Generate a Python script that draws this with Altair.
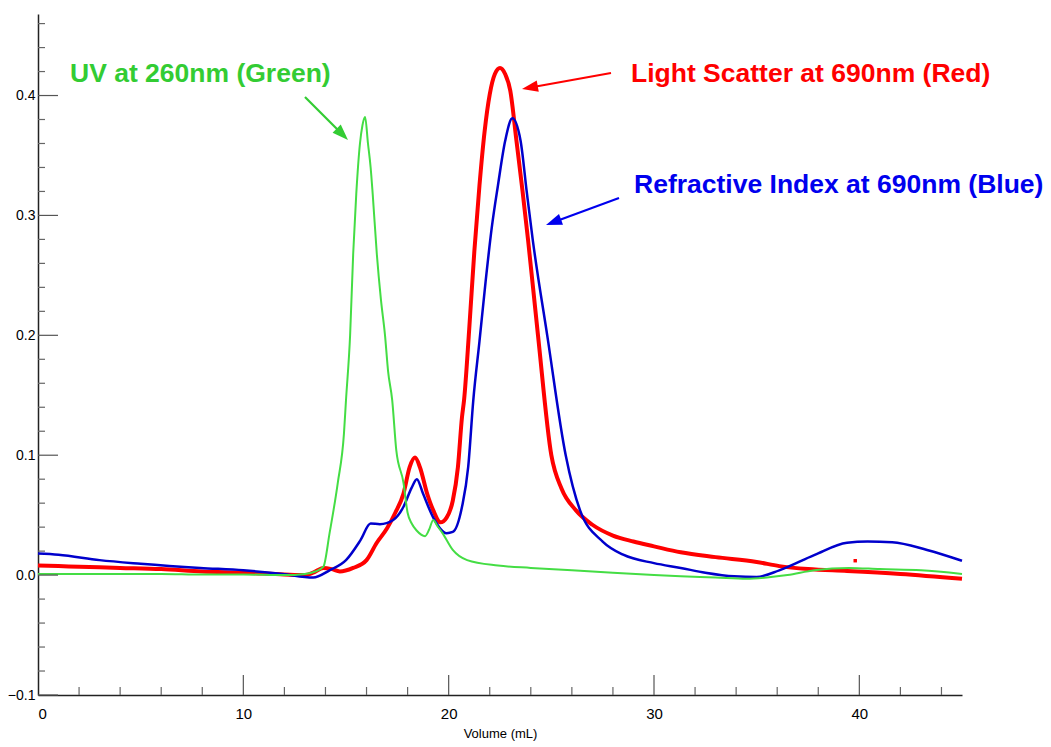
import math
import altair as alt
import pandas as pd

# ---------------- data ----------------
uv_x = [0, 2, 4, 6, 8, 10, 12, 13, 13.5, 13.9, 14.2, 14.6, 14.9, 15.0, 15.2, 15.35, 15.5, 15.68,
        15.8, 15.93, 16.07, 16.2, 16.3, 16.5, 16.7, 16.9, 17.05, 17.25, 17.45, 17.8, 18.0, 18.2,
        18.45, 18.85, 19.05, 19.25, 19.45, 19.7, 20.2, 20.9, 22.4, 24.0, 26, 28, 30, 31.3, 33,
        34.5, 35.5, 36.5, 37.8, 39.5, 41, 43, 45]
uv_y = [0.001, 0.001, 0.001, 0.001, 0.0005, 0.0005, 0.0, 0.001, 0.003, 0.007, 0.035, 0.077, 0.118,
        0.146, 0.2, 0.268, 0.318, 0.36, 0.375, 0.382, 0.36, 0.34, 0.318, 0.268, 0.23, 0.2, 0.17,
        0.146, 0.104, 0.077, 0.052, 0.043, 0.037, 0.0325, 0.038, 0.046, 0.041, 0.035, 0.021,
        0.0125, 0.008, 0.006, 0.004, 0.002, 0.0, -0.001, -0.002, -0.003, -0.002, 0.0, 0.004,
        0.006, 0.005, 0.004, 0.001]

ls_x = [0, 1, 2, 4, 6, 8, 10, 12, 13, 13.4, 13.9, 14.3, 14.7, 15.35, 16.0, 16.5, 17.0, 17.4, 17.8,
        18.1, 18.36, 18.6, 18.95, 19.25, 19.6, 19.9, 20.2, 20.45, 20.65, 20.75, 21.0, 21.25, 21.5,
        21.75, 22.0, 22.25, 22.5, 22.75, 23.0, 23.3, 23.6, 23.87, 24.35, 25.0, 25.5, 26.2, 27, 28,
        29, 30, 31.3, 33, 35, 36.1, 37.5, 39.4, 42, 45]
ls_y = [0.008, 0.0075, 0.007, 0.006, 0.005, 0.003, 0.002, 0.0005, 0.0, 0.002, 0.006, 0.005, 0.003,
        0.006, 0.0125, 0.027, 0.039, 0.052, 0.068, 0.09, 0.098, 0.09, 0.068, 0.054, 0.044, 0.048,
        0.062, 0.09, 0.132, 0.146, 0.205, 0.27, 0.325, 0.37, 0.401, 0.418, 0.423, 0.418, 0.404,
        0.3625, 0.32, 0.279, 0.2, 0.1, 0.072, 0.054, 0.042, 0.033, 0.028, 0.024, 0.019, 0.015,
        0.011, 0.0075, 0.005, 0.0035, 0.001, -0.003]

ri_x = [0, 1, 3, 5, 7.9, 10, 11.9, 13.4, 14.2, 15.0, 15.7, 16.2, 16.65, 17.3, 17.8, 18.2, 18.45,
        18.75, 19.25, 19.9, 20.2, 20.65, 20.95, 21.2, 21.5, 21.8, 22.1, 22.4, 22.75, 23.1, 23.5,
        23.8, 24.1, 24.8, 25.7, 26.4, 27.5, 28.5, 30, 31.3, 32.5, 33.9, 35, 36.1, 37.8, 39.4,
        40.4, 41.6, 43.3, 45]
ri_y = [0.018, 0.017, 0.0125, 0.0095, 0.006, 0.004, 0.001, -0.002, 0.004, 0.0125, 0.029, 0.043,
        0.0425, 0.046, 0.057, 0.073, 0.08, 0.068, 0.048, 0.035, 0.036, 0.057, 0.09, 0.146, 0.195,
        0.245, 0.29, 0.325, 0.362, 0.381, 0.3625, 0.32, 0.279, 0.2, 0.1, 0.054, 0.028, 0.017,
        0.01, 0.006, 0.002, -0.001, -0.0015, 0.004, 0.0167, 0.027, 0.028, 0.0275, 0.021, 0.012]

outlier_x = [39.8]
outlier_y = [0.012]

x_major = [10, 20, 30, 40]
x_minor = [2, 4, 6, 8, 12, 14, 16, 18, 22, 24, 26, 28, 32, 34, 36, 38, 42, 44]
y_major = [-0.1, 0.0, 0.1, 0.2, 0.3, 0.4]
y_minor = [-0.08, -0.06, -0.04, -0.02, 0.02, 0.04, 0.06, 0.08, 0.12, 0.14, 0.16, 0.18, 0.22,
           0.24, 0.26, 0.28, 0.32, 0.34, 0.36, 0.38, 0.42, 0.44, 0.46]

# ---------------- layout ----------------
W, H = 924, 681
FONT = "Liberation Sans"
GREEN, RED, BLUE = "#33cc33", "#ff0000", "#0000ee"

xs = alt.Scale(domain=[0, 45], nice=False, zero=False)
ys = alt.Scale(domain=[-0.1, 0.468], nice=False, zero=False)

def line(xv, yv, color, width):
    df = pd.DataFrame({"x": xv, "y": yv})
    return alt.Chart(df).mark_line(color=color, strokeWidth=width, interpolate="monotone").encode(
        x=alt.X("x:Q", scale=xs,
                axis=alt.Axis(values=[0, 10, 20, 30, 40], ticks=False, grid=False, title="Volume (mL)",
                              domainColor="#222222", domainWidth=1.5, labelFontSize=15,
                              labelFont=FONT, labelColor="#000000", labelPadding=11,
                              titleFont=FONT, titleFontSize=13, titleFontWeight="normal",
                              titleColor="#000000", titlePadding=6)),
        y=alt.Y("y:Q", scale=ys,
                axis=alt.Axis(values=y_major, format=".1f", ticks=False, grid=False, title=None,
                              domainColor="#222222", domainWidth=1.5, labelFontSize=14,
                              labelFont=FONT, labelColor="#000000", labelPadding=3)),
    )

red = line(ls_x, ls_y, RED, 4)
blue = line(ri_x, ri_y, "#0000cc", 2.5)
green = line(uv_x, uv_y, "#44dd44", 2)

outlier = alt.Chart(pd.DataFrame({"x": outlier_x, "y": outlier_y})).mark_square(
    color=RED, size=12, opacity=1).encode(x=alt.X("x:Q", scale=xs), y=alt.Y("y:Q", scale=ys))

def ticks_y(vals, length, color):
    return alt.Chart(pd.DataFrame({"v": vals})).mark_rule(color=color, strokeWidth=1.2).encode(
        y=alt.Y("v:Q", scale=ys), x=alt.value(0), x2=alt.value(length))

def ticks_x(vals, length, color):
    return alt.Chart(pd.DataFrame({"v": vals})).mark_rule(color=color, strokeWidth=1.2).encode(
        x=alt.X("v:Q", scale=xs), y=alt.value(H), y2=alt.value(H - length))

tick_layers = [ticks_y(y_major, 20, "#555555"), ticks_y(y_minor, 7, "#666666"),
               ticks_x(x_major, 20, "#555555"), ticks_x(x_minor, 8, "#666666")]

OX, OY = 38, 14  # plot origin on the page
one = pd.DataFrame({"a": [0]})

def label(text, px, py, color):
    return alt.Chart(one).mark_text(text=text, align="left", baseline="alphabetic", font=FONT,
                                    fontSize=26.5, fontWeight="bold", color=color).encode(
        x=alt.value(px - OX), y=alt.value(py - OY))

ARROW = "M0,0L0.36,1L-0.36,1Z"

def arrow(x1, y1, x2, y2, color):
    dx, dy = x2 - x1, y2 - y1
    ang = (math.degrees(math.atan2(dx, -dy)) + 360) % 360
    L = math.hypot(dx, dy)
    hl = 16
    bx, by = x2 - dx / L * hl * 0.8, y2 - dy / L * hl * 0.8
    shaft = alt.Chart(one).mark_rule(color=color, strokeWidth=2.2).encode(
        x=alt.value(x1 - OX), y=alt.value(y1 - OY), x2=alt.value(bx - OX), y2=alt.value(by - OY))
    head = alt.Chart(one).mark_point(shape=ARROW, filled=True, color=color, opacity=1,
                                     size=(2 * hl) ** 2, angle=ang, strokeWidth=0).encode(
        x=alt.value(x2 - OX), y=alt.value(y2 - OY))
    return shaft + head

annotations = [
    label("UV at 260nm (Green)", 70, 82, GREEN),
    label("Light Scatter at 690nm (Red)", 631, 82, RED),
    label("Refractive Index at 690nm (Blue)", 634, 193, BLUE),
    arrow(305, 97, 348, 140, GREEN),
    arrow(611, 73, 522, 89, RED),
    arrow(619, 198, 546, 225, BLUE),
]

chart = alt.layer(red, blue, green, outlier, *tick_layers, *annotations).properties(
    width=W, height=H,
    autosize=alt.AutoSizeParams(type="none"),
    padding={"left": 30, "top": 6, "right": 81, "bottom": 50},
    background="white",
).configure_view(stroke=None)

chart.save("out.html", embed_options={"renderer": "svg", "actions": False})
